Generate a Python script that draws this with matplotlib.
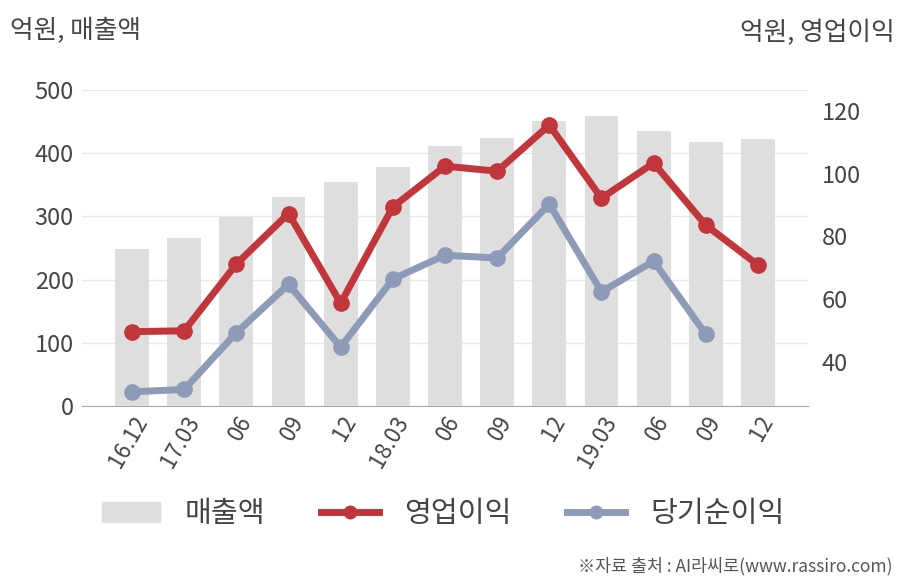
import matplotlib
matplotlib.use('Agg')
import matplotlib.pyplot as plt
from matplotlib.lines import Line2D
from matplotlib.patches import Patch

plt.rcParams['font.family'] = ['Noto Sans CJK KR', 'DejaVu Sans']

labels = ['16.12', '17.03', '06', '09', '12', '18.03', '06', '09', '12',
          '19.03', '06', '09', '12']
sales = [248, 266, 299, 330, 354, 378, 411, 424, 451, 459, 435, 418, 422]
op_profit = [49.6, 49.9, 71.2, 87.3, 58.7, 89.4, 102.4, 100.8, 115.5,
             92.2, 103.4, 83.6, 70.9]
net_profit = [30.4, 31.2, 49.3, 64.7, 44.7, 66.4, 74.0, 73.1, 90.3,
              62.3, 72.1, 48.8]

bar_c = '#dedede'
red = '#c1363a'
blue = '#8e9bb8'
txt = '#444444'

fig = plt.figure(figsize=(9.08, 5.8), dpi=100)
ax = fig.add_axes([82/908, 1-406/580, 726/908, 316/580])
x = list(range(len(labels)))
ax.bar(x, sales, width=0.65, color=bar_c, zorder=2)
ax.set_ylim(0, 500)
ax.set_xlim(-0.96, 12.96)
ax.set_yticks([0, 100, 200, 300, 400, 500])
ax.grid(axis='y', color='#e8e8e8', lw=1, zorder=0)
ax.set_axisbelow(True)
for s in ['top', 'right', 'left']:
    ax.spines[s].set_visible(False)
ax.spines['bottom'].set_color('#aaaaaa')
ax.tick_params(axis='y', length=0, labelsize=17, labelcolor=txt, pad=6)
ax.tick_params(axis='x', length=0, labelsize=16, labelcolor=txt, pad=4)
ax.set_xticks(x)
ax.set_xticklabels(labels, rotation=60, ha='right', va='top',
                   rotation_mode='anchor')

ax2 = ax.twinx()
ax2.set_ylim(25.9, 126.7)
ax2.set_yticks([40, 60, 80, 100, 120])
for s in ax2.spines.values():
    s.set_visible(False)
ax2.tick_params(axis='y', length=0, labelsize=17, labelcolor=txt, pad=10)
ax2.plot(x, op_profit, color=red, lw=5, marker='o', ms=11, zorder=3)
ax2.plot(x[:len(net_profit)], net_profit, color=blue, lw=5, marker='o',
         ms=11, zorder=3)

fig.text(10/908, 1-30/580, '억원, 매출액', fontsize=18.5, color=txt,
         ha='left', va='center')
fig.text(895/908, 1-33/580, '억원, 영업이익', fontsize=18.5, color=txt,
         ha='right', va='center')

handles = [Patch(color=bar_c),
           Line2D([], [], color=red, lw=5, marker='o', ms=9),
           Line2D([], [], color=blue, lw=5, marker='o', ms=9)]
fig.legend(handles, ['매출액', '영업이익', '당기순이익'], loc='center',
           bbox_to_anchor=(0.488, 1-514/580), ncol=3, frameon=False,
           fontsize=21, handlelength=2.0, handletextpad=0.85,
           columnspacing=1.9, labelcolor=txt)

fig.text(893/908, 1-566/580, '※자료 출처 : AI라씨로(www.rassiro.com)',
         fontsize=12.5, color='#555555', ha='right', va='center')

fig.savefig('out.png', dpi=100)
